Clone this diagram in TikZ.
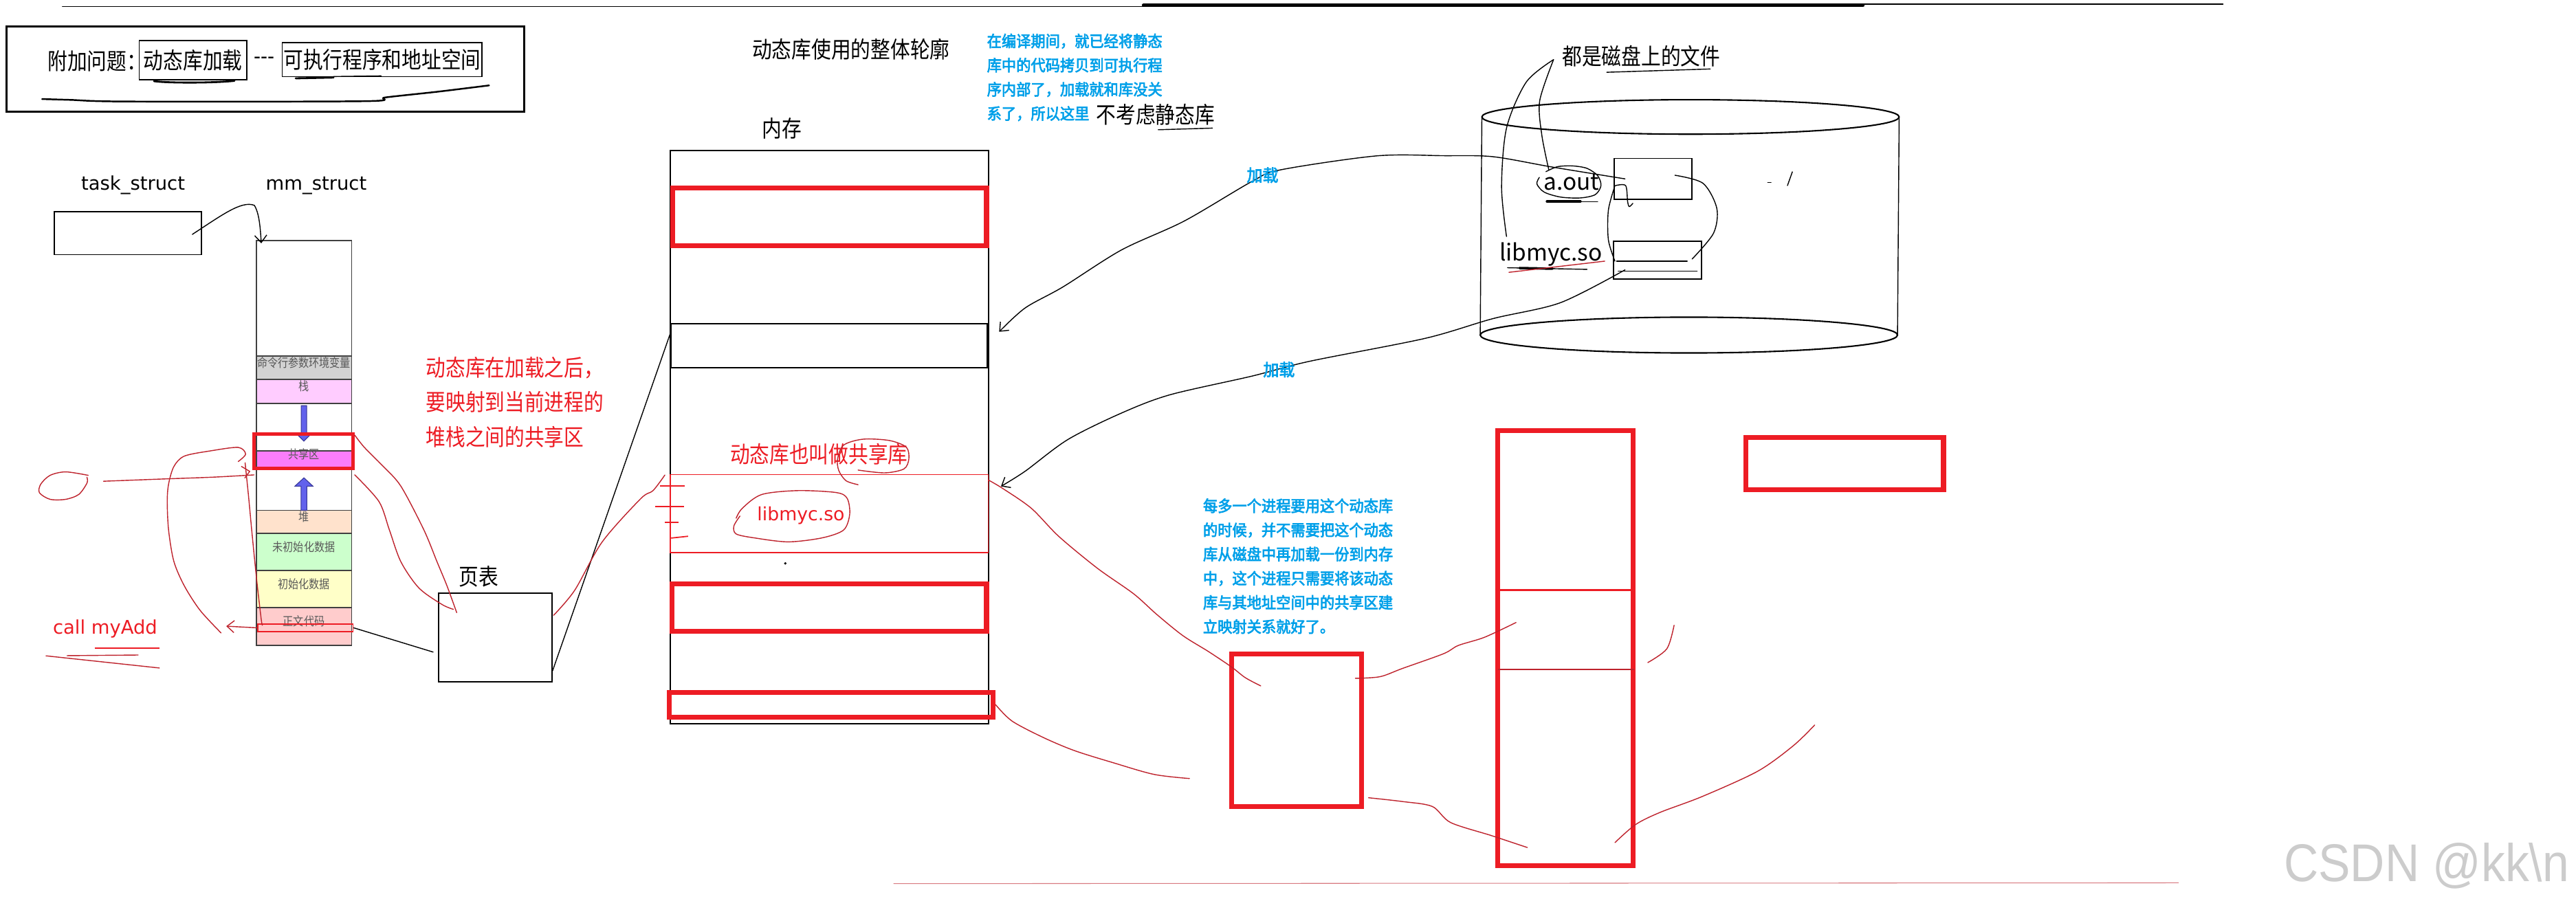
\documentclass[tikz,border=0pt]{standalone}
\usepackage{fontspec}
\usepackage{tikz}
\usetikzlibrary{arrows.meta, positioning, fit, calc}

\newfontfamily\cjkfont[FakeStretch=0.86]{Noto Sans CJK SC}
\newfontfamily\cjkboldfont[FakeStretch=0.93, FakeBold=3]{Noto Sans CJK SC}
\newfontfamily\latfont{DejaVu Sans}
\newfontfamily\narfont{Noto Sans CJK SC}
\newfontfamily\wmfont[FakeStretch=0.9]{Liberation Sans}

\definecolor{pred}{RGB}{237,28,36}
\definecolor{inkred}{RGB}{190,34,44}
\definecolor{pblue}{RGB}{0,160,233}
\definecolor{segGrey}{RGB}{210,210,210}
\definecolor{segPink}{RGB}{255,204,255}
\definecolor{segMag}{RGB}{250,125,250}
\definecolor{segPeach}{RGB}{255,226,204}
\definecolor{segGreen}{RGB}{204,255,204}
\definecolor{segYellow}{RGB}{255,255,200}
\definecolor{segRed}{RGB}{255,204,204}
\definecolor{arrowblue}{RGB}{98,98,236}
\definecolor{arrowedge}{RGB}{55,55,150}

\begin{document}
\begin{tikzpicture}[x=0.0239cm, y=-0.0239cm, >={Straight Barb[length=3pt,width=5pt]}]

    % Define the styles
    \tikzstyle{plainbox} = [draw, line width=0.5pt, inner sep=0pt]
    \tikzstyle{redbox} = [draw=pred, line width=2pt, inner sep=0pt]
    \tikzstyle{thinred} = [draw=pred, line width=0.4pt, inner sep=0pt]
    \tikzstyle{memseg} = [draw=black!75, line width=0.5pt, inner sep=0pt, text=black!65, font=\cjkfont\fontsize{5pt}{6pt}\selectfont]
    \tikzstyle{heading} = [inner sep=0pt, font=\cjkfont\fontsize{9.5pt}{14.3pt}\selectfont]
    \tikzstyle{bluenote} = [inner sep=0pt, text=pblue, align=left, font=\cjkboldfont\fontsize{6.5pt}{10pt}\selectfont]
    \tikzstyle{loadlabel} = [inner sep=0pt, text=pblue, font=\cjkboldfont\fontsize{7pt}{8pt}\selectfont]
    \tikzstyle{codetext} = [inner sep=0pt, font=\latfont\fontsize{7.8pt}{9pt}\selectfont]
    \tikzstyle{filename} = [inner sep=0pt, font=\narfont\fontsize{9.5pt}{11pt}\selectfont]
    \tikzstyle{blackpen} = [draw=black, line width=0.4pt, line cap=round, line join=round]
    \tikzstyle{redpen} = [draw=inkred, line width=0.4pt, line cap=round, line join=round]
    \tikzstyle{blockarrow} = [fill=arrowblue, draw=arrowedge, line width=0.3pt]

    % Canvas
    \useasboundingbox (0,0) rectangle (1568,554);
    \fill[white] (0,0) rectangle (1568,554);

    % Top rule
    \draw[blackpen] (38,4) -- (696,4);
    \draw[blackpen, line width=1.3pt] (696,3.2) -- (1134,3.2);
    \draw[blackpen, line width=0.6pt] (1134,2.5) -- (1353,2.5);

    % Question box
    \node (question) [plainbox, line width=0.8pt, fit={(4,16) (319,68)}] {};
    \node (qhead) [heading, anchor=west] at (28.8,37) {附加问题：};
    \node (qdll) [plainbox, fit={(84.7,24.8) (150.2,48.7)}] {};
    \node (qdlltext) [heading] at (qdll) {动态库加载};
    \node (qdash) [heading] at (161,37) {-\kern0pt-\kern0pt-};
    \node (qexe) [plainbox, fit={(171.8,26) (293.5,46.7)}] {};
    \node (qexetext) [heading] at (qexe) {可执行程序和地址空间};
    \draw[blackpen, line width=0.8pt] (93.7,49.4) .. controls (102,50.6) and (130,50.6) .. (142.7,49.2);
    \draw[blackpen, line width=0.8pt] (180,47.7) -- (203,47.2);
    \draw[blackpen] (203,46.6) -- (232,46.2);
    \draw[blackpen, line width=0.7pt] plot[smooth] coordinates {(25.6,60.3) (42.7,60.8) (76.8,61.8) (221.9,61.6) (234.7,59.3) (266.7,55.8) (297.7,52)};

    % Headings and notes
    \node (overview) [heading] at (518,30) {动态库使用的整体轮廓};
    \node (staticnote) [bluenote, anchor=north west] at (600.5,20.2) {在编译期间，就已经将静态\\库中的代码拷贝到可执行程\\序内部了，加载就和库没关\\系了，所以这里};
    \node (nostatic) [heading, anchor=west] at (667,69.7) {不考虑静态库};
    \draw[blackpen] (705,79) -- (738,78);

    % Process side
    \node (tasklabel) [codetext] at (81,112.8) {task\_struct};
    \node (task) [plainbox, fit={(33,129) (122.6,155)}] {};
    \node (mmlabel) [codetext] at (192.5,113) {mm\_struct};
    \node (mm) [memseg, fill=white, fit={(156,146.5) (214,393)}] {};
    \node (args) [memseg, fill=segGrey, fit={(156,216.8) (214,231)}] {命令行参数环境变量};
    \node (stack) [memseg, fill=segPink, fit={(156,231) (214,245.6)}] {栈};
    \node (shared) [memseg, fill=segMag, fit={(156,274.5) (214,284.6)}] {共享区};
    \node (heap) [memseg, fill=segPeach, fit={(156,310.7) (214,324.7)}] {堆};
    \node (bss) [memseg, fill=segGreen, fit={(156,324.7) (214,347.3)}] {未初始化数据};
    \node (data) [memseg, fill=segYellow, fit={(156,347.3) (214,370)}] {初始化数据};
    \node (code) [memseg, fill=segRed, fit={(156,370) (214,393)}] {正文代码};
    \draw[blockarrow] (183.3,247) -- (186.7,247) -- (186.7,265) -- (188.6,265) -- (185,268.6) -- (181.4,265) -- (183.3,265) -- cycle;
    \draw[blockarrow] (185,290.9) -- (190.5,296) -- (186.8,296) -- (186.8,310.7) -- (183.2,310.7) -- (183.2,296) -- (179.5,296) -- cycle;
    \node (sharedbox) [redbox, line width=1.5pt, fit={(154.5,264.3) (214.8,285.3)}] {};
    \node (callsite) [thinred, fit={(157,380) (215,384.5)}] {};
    \draw[blackpen, ->] ($(task.east)+(-5.9,0.7)$) .. controls (135,131) and (147,122) .. (154.8,125) .. controls (158,130) and (158.5,140) .. ($(mm.north west)+(3.4,2)$);

    % Call site scribbles
    \node (call) [codetext, text=pred] at (64,383) {call myAdd};
    \draw[pred, line width=0.6pt] (57.6,394.6) -- (96.9,394.6);
    \draw[redpen] (28,399.3) -- (97,406.7);
    \draw[redpen] (40.8,399.2) -- (84.1,398.8);
    \draw[redpen, ->] (callsite.west) -- ++(-19,-1);
    \draw[redpen] plot[smooth] coordinates {(53.7,289.4) (40,287.3) (30.5,289.4) (24.8,294.8) (24,300) (30.5,304) (40,304) (48,301) (53,294) (52.9,290.5)};
    \coordinate (leftmark) at ($(mm.north west)+(-1,143)$);
    \draw[redpen] plot[smooth] coordinates {(63,293) (100,291.6) (130,290.5) (leftmark)};
    \draw[redpen] plot[smooth] coordinates {(134.6,385.4) (121.8,371.6) (112.2,356.7) (105.8,341.7) (102.6,322.6) (101.8,305.4) (102.6,294.8) (105.8,284.1) (112.2,277.7) (128.2,274.5) (145,272.4) (149.5,276.5) (145,281)};
    \draw[redpen] plot[smooth] coordinates {(149.2,281.8) (151.3,302.3) (153.4,324.7) (156.2,352.7) (159,377) (159.7,380.7)};
    \draw[redpen] (147,284) -- (152,287) -- (149,291);

    % Page table
    \node (page) [plainbox, fit={(267,361) (336,415)}] {};
    \node (pagelabel) [heading, above=0.07cm of page, xshift=-0.24cm] {页表};
    \node (mapnote) [heading, text=pred, align=left, anchor=north west] at (259,217) {动态库在加载之后，\\要映射到当前进程的\\堆栈之间的共享区};
    \coordinate (shA) at ($(sharedbox.north east)+(0,1.7)$);
    \coordinate (shB) at ($(sharedbox.south east)+(0,2.7)$);
    \draw[redpen] plot[smooth] coordinates {(shA) (221.8,272.4) (233,283.7) (244,296) (258,322.6) (266,342) (272,356.5) (278,373)};
    \draw[redpen] plot[smooth] coordinates {(shB) (230.7,305.4) (237,322.6) (244,342) (255,358) (269,368) (276,371)};

    % Memory
    \node (memlabel) [heading] at (476,78) {内存};
    \node (mem) [plainbox, fit={(408,91.6) (601.6,440.5)}] {};
    \node (memtop) [redbox, fit={(409.5,114.5) (600.5,149.5)}] {};
    \node (dllmap) [plainbox, fit={(408.5,197) (600.8,224)}] {};
    \node (dllarea) [thinred, fit={(408,289) (601.6,336.5)}] {};
    \node (memmid) [redbox, fit={(409,355.5) (600.5,384.5)}] {};
    \node (membot) [redbox, fit={(407.5,421.5) (604.5,436.5)}] {};
    \node (alsoshared) [heading, text=pred] at (498.5,276.6) {动态库也叫做共享库};
    \node (libinmem) [codetext, text=pred, font=\latfont\fontsize{7.6pt}{9pt}\selectfont] at (487.5,314) {libmyc.so};
    \draw[redpen] plot[smooth] coordinates {(450.4,314.2) (446.7,320.3) (448.1,325.1) (459.2,327.5) (479.7,329.9) (500.3,327.5) (513.5,322.7) (517.2,313.1) (515.7,303.5) (509.1,299.9) (485.6,298.7) (463.6,301.1) (451.8,309.5) (448.1,315.5)};
    \draw[redpen] plot[smooth] coordinates {(522.3,295.1) (515,292.7) (510.6,286.6) (509.8,279.5) (513.5,271) (525.3,267.4) (541.4,268.2) (551.7,272.3) (553.2,279.5) (550.2,285.5) (538.5,287.9) (522.3,286.2)};
    \fill (478,343) circle [radius=0.8];
    \draw[pred, line width=0.5pt] (401.9,295.8) -- (416.6,295.8);
    \draw[pred, line width=0.5pt] (399,308.3) -- (416.3,308.3);
    \draw[pred, line width=0.5pt] (404.8,317.9) -- (413,317.9);
    \draw[pred, line width=0.5pt] (408.5,327.6) -- (418.8,326.5);
    \draw[blackpen] (callsite.east) -- ($(page.west)+(-3,9)$);
    \draw[blackpen] ($(page.south east)+(0,-7)$) -- ($(dllmap.north west)+(0,6)$);
    \coordinate (pgA) at ($(page.north east)+(0.6,14)$);
    \coordinate (dlA) at ($(dllarea.north west)+(-3,0.5)$);
    \draw[redpen] plot[smooth] coordinates {(pgA) (349.8,359.4) (366.5,330) (390,303.6) (397.5,298.7) (dlA)};

    % Disk
    \node (diskfiles) [heading] at (999,34) {都是磁盘上的文件};
    \draw[blackpen] (978,44) -- (1041,42);
    \draw[blackpen, line width=0.6pt] (1029,71.2) ellipse [x radius=127, y radius=10.5];
    \draw[blackpen, line width=0.6pt] (1028,204) ellipse [x radius=127, y radius=10.9];
    \draw[blackpen] (902,71.2) -- (901,204);
    \draw[blackpen] (1156,71.2) -- (1155,204);
    \node (aoutbox) [plainbox, fit={(982.5,96.5) (1029.7,121.3)}] {};
    \node (libbox) [plainbox, fit={(982,147) (1035.6,170)}] {};
    \draw[blackpen] (984,159) -- (1027,159);
    \draw[blackpen] (985,165) -- (1033,165);
    \node (aout) [filename] at (956.5,111) {a.out};
    \node (libname) [filename] at (944,155) {libmyc.so};
    \draw[blackpen] plot[smooth] coordinates {(941,104.5) (948,101.5) (957,101) (966,102.5) (972.5,107) (974.5,113) (971,118.5) (962,120.5) (950,120) (940,117) (935.5,112) (937,108)};
    \draw[blackpen, line width=1pt] (941.6,122.7) -- (962,122.7);
    \draw[blackpen] (962,122.7) -- (972.5,122.7);
    \draw[blackpen] (917.6,163) -- (966,164);
    \draw[blackpen, line width=1pt] (925,163.2) -- (945,163.6);
    \draw[redpen] (918.5,165.8) -- (976.8,159);
    \coordinate (fileptr) at ($(diskfiles.west)+(-5,2.3)$);
    \draw[blackpen] plot[smooth] coordinates {(fileptr) (929,50) (917,78) (914,114) (917,144)};
    \draw[blackpen] plot[smooth] coordinates {(fileptr) (937.2,61.4) (938.5,82.3) (942.7,103.2)};
    \draw[blackpen] plot[smooth] coordinates {(1019.5,106.7) (1036.6,111.6) (1045,126.8) (1043,142) (1030,157.7)};
    \draw[blackpen] plot[smooth] coordinates {(983,113) (979,128) (979,146) (983,159)};
    \draw[blackpen] plot[smooth] coordinates {(983.3,113) (989.5,113) (990.7,122.6) (991.7,125.8) (993.9,123.8)};
    \draw[blackpen] (1076,111) -- (1078,111);
    \draw[blackpen] (1088,113) -- (1091,104.6);

    % Arrows
    \coordinate (aoutsrc) at ($(aoutbox.west)+(7,0)$);
    \coordinate (mapdst) at ($(dllmap.east)+(7,-8.5)$);
    \draw[blackpen, ->] plot[smooth] coordinates {(aoutsrc) (944.8,101.7) (908.7,95.4) (878.7,94.8) (838,94.9) (779.5,103.4) (762,110.5) (720.8,134.6) (682.6,152.2) (647,174.7) (624,187.5) (mapdst)};
    \node (load1) [loadlabel] at (768.5,106.6) {加载};
    \coordinate (libsrc) at ($(libbox.west)+(7.5,5.8)$);
    \coordinate (areadst) at ($(dllarea.north east)+(7.4,7.4)$);
    \draw[blackpen, ->] plot[smooth] coordinates {(libsrc) (949.8,184.3) (908.7,194) (867.5,206) (797,220) (762,229) (712,240.4) (682.6,251.5) (650,267.6) (624,286.9) (areadst)};
    \node (load2) [loadlabel] at (778.5,225) {加载};

    % Other processes
    \node (proc1) [redbox, fit={(749.5,398) (828.7,491)}] {};
    \node (proc2) [redbox, fit={(911.5,262) (994,527)}] {};
    \node (proc3) [redbox, fit={(1062.6,266.5) (1183,298.3)}] {};
    \draw[pred, line width=0.9pt] ($(proc2.north west)+(0,98.7)$) -- ($(proc2.north east)+(0,98.7)$);
    \draw[redpen, line width=0.5pt] ($(proc2.north west)+(2,147)$) -- ($(proc2.north east)+(-1,147)$);
    \node (sharenote) [bluenote, anchor=north west] at (732,303.2) {每多一个进程要用这个动态库\\的时候，并不需要把这个动态\\库从磁盘中再加载一份到内存\\中，这个进程只需要将该动态\\库与其地址空间中的共享区建\\立映射关系就好了。};
    \coordinate (arA) at ($(dllarea.north east)+(0,3.7)$);
    \draw[redpen] plot[smooth] coordinates {(arA) (610.5,297.5) (627.8,309.5) (644.5,326.6) (668,346) (690,361.5) (704,374) (720,387) (735.6,396.7) (749.5,406) (758,412.6) (767.4,417.6)};
    \draw[redpen] plot[smooth] coordinates {(membot.east) (616,439) (635,449) (654,457) (678,464.5) (702.5,471.5) (724,474)};
    \draw[redpen] plot[smooth] coordinates {(825,413) (840,412) (853.6,407) (878.7,398) (887.6,393) (903.6,388) (922.8,379)};
    \draw[redpen] plot[smooth] coordinates {(833,485.7) (853.6,488) (871.8,491) (883,500.8) (908,508.8) (929.7,516)};
    \draw[redpen] plot[smooth] coordinates {(1019,380.7) (1014.6,395) (1003,403.4)};
    \draw[redpen] plot[smooth] coordinates {(1104.6,441.4) (1091.6,454) (1070,469.5) (1036,485) (1010.5,494.6) (995.6,502) (983,513)};
    \draw[redpen, draw=inkred!60, line width=0.3pt] (544,538) -- (1326,537.5);

    % Watermark
    \node (csdn) [inner sep=0pt, text=black!20, font=\wmfont\fontsize{22pt}{24pt}\selectfont] at (1477,527) {CSDN @kk\textbackslash n};

\end{tikzpicture}
\end{document}
